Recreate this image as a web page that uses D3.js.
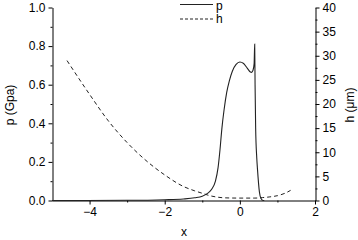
<!DOCTYPE html>
<html>
<head>
<meta charset="utf-8">
<script src="https://cdn.jsdelivr.net/npm/d3@7.9.0/dist/d3.min.js"></script>
<style>
  body { margin: 0; background: #fff; }
  svg { display: block; font-family: "Liberation Sans", Arial, sans-serif; }
  .axis text { font-size: 12px; fill: #000; }
  .axis path, .axis line { stroke: #000; stroke-width: 1; }
</style>
</head>
<body>
<svg id="chart" width="358" height="240"></svg>
<script>
// pressure curve p (Gpa)
const pX = [-5, -3, -2, -1.5, -1.2, -1.0, -0.85, -0.75, -0.65, -0.58, -0.53, -0.48, -0.42, -0.35, -0.28, -0.2, -0.1, 0, 0.1, 0.2, 0.28, 0.31, 0.35, 0.38, 0.395, 0.405, 0.42, 0.45, 0.47, 0.52, 0.56, 0.62, 0.65];
const pY = [0, 0.001, 0.004, 0.008, 0.014, 0.022, 0.038, 0.058, 0.10, 0.17, 0.26, 0.37, 0.47, 0.56, 0.62, 0.67, 0.705, 0.718, 0.71, 0.685, 0.666, 0.664, 0.675, 0.71, 0.81, 0.60, 0.38, 0.22, 0.16, 0.045, 0.012, 0, 0];

// film thickness h (um)
const hX = [-4.6, -4.0, -3.5, -3.0, -2.5, -2.0, -1.5, -1.2, -1.0, -0.8, -0.6, -0.4, 0, 0.4, 0.6, 0.8, 1.0, 1.2, 1.35];
const hY = [29, 22, 16.5, 12, 8.3, 5.3, 2.9, 2.0, 1.5, 1.0, 0.7, 0.55, 0.5, 0.5, 0.6, 0.75, 1.0, 1.5, 2.1];

const xTicks = [-4, -2, 0, 2];
const xMinor = [-3, -1, 1];
const pTicks = [0, 0.2, 0.4, 0.6, 0.8, 1.0];
const pMinor = [0.1, 0.3, 0.5, 0.7, 0.9];
const hTicks = [0, 5, 10, 15, 20, 25, 30, 35, 40];
const hMinor = [2.5, 7.5, 12.5, 17.5, 22.5, 27.5, 32.5, 37.5];

const svg = d3.select("#chart");

const x = d3.scaleLinear().domain([-5, 2]).range([52, 315]);
const yP = d3.scaleLinear().domain([0, 1]).range([200.5, 7.5]);
const yH = d3.scaleLinear().domain([0, 40]).range([200.5, 7.5]);

// axes
svg.append("g").attr("class", "axis").attr("transform", "translate(0,200.5)")
    .call(d3.axisBottom(x).tickValues(xTicks).tickSize(4).tickSizeOuter(0).tickFormat(d3.format("d")));
svg.append("g").attr("class", "axis").attr("transform", "translate(0,200.5)")
    .call(d3.axisBottom(x).tickValues(xMinor).tickSize(2).tickSizeOuter(0).tickFormat(""))
    .select(".domain").remove();

svg.append("g").attr("class", "axis").attr("transform", "translate(52.5,0)")
    .call(d3.axisLeft(yP).tickValues(pTicks).tickSize(4).tickSizeOuter(0).tickFormat(d3.format(".1f")));
svg.append("g").attr("class", "axis").attr("transform", "translate(52.5,0)")
    .call(d3.axisLeft(yP).tickValues(pMinor).tickSize(2).tickSizeOuter(0).tickFormat(""))
    .select(".domain").remove();

svg.append("g").attr("class", "axis").attr("transform", "translate(315.5,0)")
    .call(d3.axisRight(yH).tickValues(hTicks).tickSize(4).tickSizeOuter(0).tickFormat(d3.format("d")));
svg.append("g").attr("class", "axis").attr("transform", "translate(315.5,0)")
    .call(d3.axisRight(yH).tickValues(hMinor).tickSize(2).tickSizeOuter(0).tickFormat(""))
    .select(".domain").remove();

svg.selectAll(".axis text").style("font-size", "12px");

// axis titles
svg.append("text").attr("x", 184).attr("y", 236).attr("text-anchor", "middle")
    .style("font-size", "12px").text("x");
svg.append("text").attr("transform", "translate(14,105) rotate(-90)").attr("text-anchor", "middle")
    .style("font-size", "12px").text("p (Gpa)");
svg.append("text").attr("transform", "translate(354,105) rotate(-90)").attr("text-anchor", "middle")
    .style("font-size", "12px").text("h (\u03bcm)");

// curves
const pData = pX.map((d, i) => [d, pY[i]]);
const hData = hX.map((d, i) => [d, hY[i]]);

const lineP = d3.line().x(d => x(d[0])).y(d => yP(d[1])).curve(d3.curveMonotoneX);
const lineH = d3.line().x(d => x(d[0])).y(d => yH(d[1])).curve(d3.curveMonotoneX);

svg.append("path").datum(hData).attr("d", lineH)
    .attr("fill", "none").attr("stroke", "#222").attr("stroke-width", 1)
    .attr("stroke-dasharray", "4,3");
svg.append("path").datum(pData).attr("d", lineP)
    .attr("fill", "none").attr("stroke", "#222").attr("stroke-width", 1.1);

// legend
const legend = svg.append("g");
legend.append("line").attr("x1", 180).attr("x2", 213).attr("y1", 4.5).attr("y2", 4.5)
    .attr("stroke", "#222").attr("stroke-width", 1);
legend.append("text").attr("x", 216).attr("y", 10).style("font-size", "12px").text("p");
legend.append("line").attr("x1", 180).attr("x2", 213).attr("y1", 19).attr("y2", 19)
    .attr("stroke", "#222").attr("stroke-width", 1).attr("stroke-dasharray", "3,2");
legend.append("text").attr("x", 216).attr("y", 23).style("font-size", "12px").text("h");
</script>
</body>
</html>
